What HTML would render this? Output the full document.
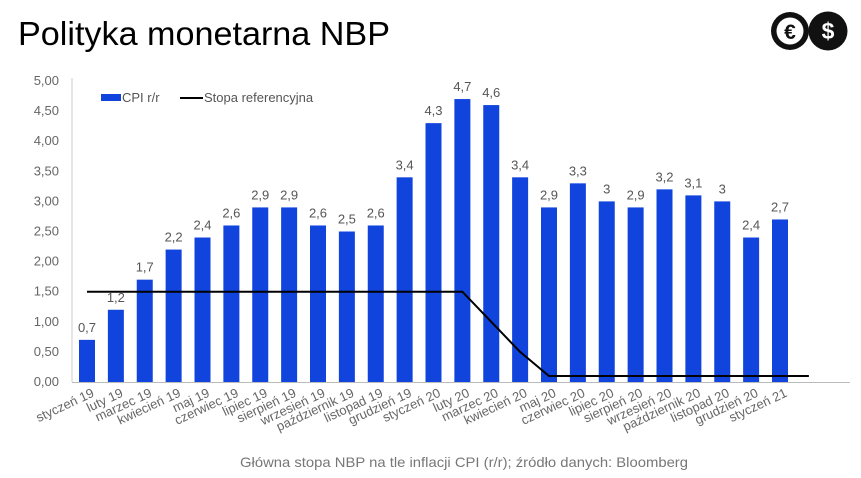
<!DOCTYPE html>
<html><head><meta charset="utf-8"><style>
body{margin:0;background:#fff;font-family:"Liberation Sans",sans-serif;}
#wrap{position:relative;width:861px;height:478px;overflow:hidden;}
</style></head><body>
<div id="wrap">
<svg width="861" height="478" id="svg">
<text x="18" y="45" font-size="33" fill="#000" textLength="372" lengthAdjust="spacingAndGlyphs">Polityka monetarna NBP</text>
<g>
<circle cx="790" cy="31" r="19" fill="#111"/><circle cx="790" cy="31" r="13.5" fill="#fff"/>
<text x="790" y="39" font-size="21" font-weight="bold" text-anchor="middle" fill="#111">€</text>
<circle cx="828" cy="31" r="19.5" fill="#111"/>
<text x="828" y="39" font-size="23" font-weight="bold" text-anchor="middle" fill="#fff">$</text>
</g>
<g>
<rect x="101" y="94" width="20" height="7" fill="#1144dd"/>
<text x="122" y="102" font-size="13" fill="#555">CPI r/r</text>
<line x1="180" y1="98" x2="203" y2="98" stroke="#000" stroke-width="2"/>
<text x="204" y="102" font-size="13" fill="#555">Stopa referencyjna</text>
</g>
<text x="464" y="467" font-size="14" fill="#777" text-anchor="middle" textLength="448" lengthAdjust="spacingAndGlyphs">Główna stopa NBP na tle inflacji CPI (r/r); źródło danych: Bloomberg</text>
</svg>
</div>
<script>
const categories=["styczeń 19","luty 19","marzec 19","kwiecień 19","maj 19","czerwiec 19","lipiec 19","sierpień 19","wrzesień 19","październik 19","listopad 19","grudzień 19","styczeń 20","luty 20","marzec 20","kwiecień 20","maj 20","czerwiec 20","lipiec 20","sierpień 20","wrzesień 20","październik 20","listopad 20","grudzień 20","styczeń 21"];
const cpiValues=[0.7,1.2,1.7,2.2,2.4,2.6,2.9,2.9,2.6,2.5,2.6,3.4,4.3,4.7,4.6,3.4,2.9,3.3,3.0,2.9,3.2,3.1,3.0,2.4,2.7];
const cpiLabels=["0,7","1,2","1,7","2,2","2,4","2,6","2,9","2,9","2,6","2,5","2,6","3,4","4,3","4,7","4,6","3,4","2,9","3,3","3","2,9","3,2","3,1","3","2,4","2,7"];
const rateValues=[1.5,1.5,1.5,1.5,1.5,1.5,1.5,1.5,1.5,1.5,1.5,1.5,1.5,1.5,1.0,0.5,0.1,0.1,0.1,0.1,0.1,0.1,0.1,0.1,0.1,0.1];
const yTicks=[0,0.5,1,1.5,2,2.5,3,3.5,4,4.5,5];
const yTickLabels=["0,00","0,50","1,00","1,50","2,00","2,50","3,00","3,50","4,00","4,50","5,00"];

const svg=document.getElementById('svg');
const NS="http://www.w3.org/2000/svg";
const y0=382,yTop=81,yMax=5;
function y(v){return y0-(v/yMax)*(y0-yTop);}
function x(i){return 87+i*28.875;}
function mk(t,a){const e=document.createElementNS(NS,t);for(const k in a)e.setAttribute(k,a[k]);svg.appendChild(e);return e;}

const yl=mk('line',{x1:72,y1:y(yMax)-3,x2:72,y2:y0,stroke:'#ccc'});


yTicks.forEach((v,i)=>{
  const t=mk('text',{x:59,y:y(v)+4,'font-size':13,fill:'#666','text-anchor':'end'});
  t.textContent=yTickLabels[i];
  
  
});
cpiValues.forEach((v,i)=>{
  const b=mk('rect',{x:x(i)-8,y:y(v),width:16,height:y0-y(v),fill:'#1144dd'});
  
  
  const t=mk('text',{x:x(i),y:y(v)-8,'font-size':13,fill:'#555','text-anchor':'middle'});
  t.textContent=cpiLabels[i];
  
  
  const c=mk('text',{x:x(i)+8,y:396,'font-size':13,fill:'#666','text-anchor':'end',transform:`rotate(-25 ${x(i)+8} 396)`});
  c.textContent=categories[i];
  
  
});
const xl=mk('line',{x1:72,y1:y0+0.5,x2:850,y2:y0+0.5,stroke:'#bbb'});


const pl=mk('polyline',{points:rateValues.map((v,i)=>x(i)+','+y(v)).join(' '),fill:'none',stroke:'#000','stroke-width':2});


</script>
</body></html>
